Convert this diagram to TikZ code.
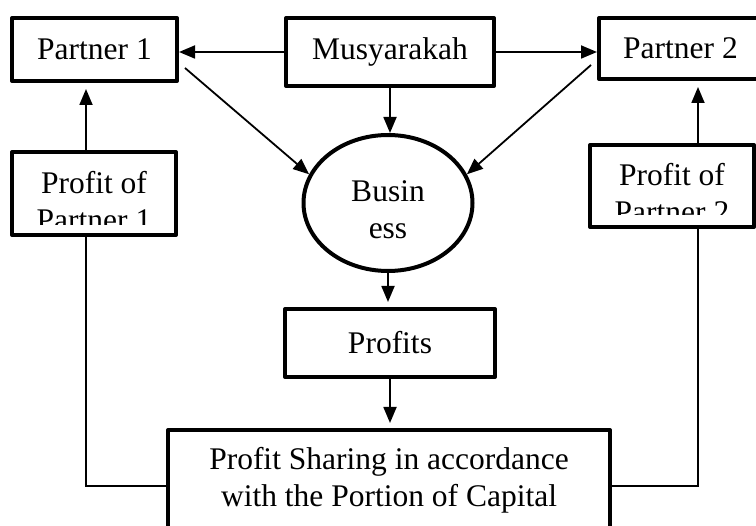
\documentclass[tikz,border=0pt]{standalone}
\usepackage{fontspec}
\setmainfont{Liberation Serif}
\usetikzlibrary{arrows.meta, positioning, shapes.geometric}

\begin{document}
\begin{tikzpicture}[x=1pt, y=-1pt,
    every node/.style={font=\fontsize{31.5}{37}\selectfont, align=center, inner sep=0pt},
    box/.style={draw, line width=4pt, line join=round},
    arr/.style={-{Triangle[length=16pt, width=13pt]}, line width=1.8pt},
    link/.style={line width=2pt}]
  \useasboundingbox (0,0) rectangle (756,526);
  \clip (0,0) rectangle (756,526);

  \node[box, minimum width=165pt, minimum height=63pt] (P1) at (94.5, 49.5) {Partner 1};
  \node[box, minimum width=208pt, minimum height=68pt] (MS) at (390, 52) {Musyarakah};
  \node[box, minimum width=163pt, minimum height=61pt] (P2) at (680.5, 48.5) {Partner 2};
  % second line of these two is cut by the box margin
  \node[box, minimum width=164pt, minimum height=83pt,
        path picture={\clip ([yshift=10pt]path picture bounding box.south west) rectangle (path picture bounding box.north east);
                      \node at ([yshift=-7.5pt]path picture bounding box.center) {Profit of\\Partner 1};}]
        (PP1) at (94, 193.5) {};
  \node[box, minimum width=164pt, minimum height=82pt,
        path picture={\clip ([yshift=12pt]path picture bounding box.south west) rectangle (path picture bounding box.north east);
                      \node at ([yshift=-7pt]path picture bounding box.center) {Profit of\\Partner 2};}]
        (PP2) at (672, 186) {};
  \node[box, ellipse, minimum width=169pt, minimum height=136pt,
        path picture={\node at ([yshift=-7pt]path picture bounding box.center) {Busin\\ess};}]
        (BS) at (388, 203) {};
  \node[box, minimum width=210pt, minimum height=68pt] (PR) at (390, 343) {Profits};
  \node[box, minimum width=442pt, minimum height=100pt] (PS) at (389, 480)
        {Profit Sharing in accordance\\with the Portion of Capital};

  \draw[arr] (MS.west) -- (P1.east |- MS.west);
  \draw[arr] (MS.east) -- (P2.west |- MS.east);
  \draw[arr] (MS.south) -- (MS.south |- BS.north);
  \draw[arr] ([shift={(6pt,-18.5pt)}]P1.east) -- (BS.160);
  \draw[arr] ([shift={(-6pt,-16.5pt)}]P2.west) -- (BS.20);
  \draw[arr, shorten >=5pt] (BS.south) -- (BS.south |- PR.north);
  \draw[arr, shorten >=5pt] (PR.south) -- (PR.south |- PS.north);
  \draw[arr, shorten >=6pt] ([xshift=-8pt]PP1.north) -- ([xshift=-8pt]PP1.north |- P1.south);
  \draw[arr, shorten >=6pt] ([xshift=26pt]PP2.north) -- ([xshift=26pt]PP2.north |- P2.south);
  \draw[link] ([xshift=-8pt]PP1.south) |- ([yshift=-6pt]PS.west);
  \draw[link] ([xshift=26pt]PP2.south) |- ([yshift=-6pt]PS.east);
\end{tikzpicture}
\end{document}
